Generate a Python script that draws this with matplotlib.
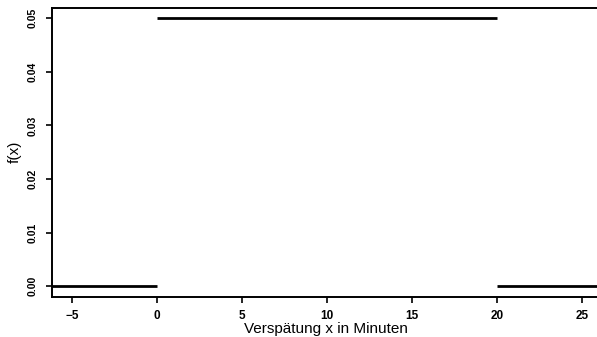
import matplotlib
matplotlib.use("Agg")
import matplotlib.pyplot as plt

# Dichtefunktion der Gleichverteilung auf [0, 20]
seg_start = [-10, 0, 20]
seg_end = [0, 20, 30]
seg_height = [0.0, 0.05, 0.0]

xticks = [-5, 0, 5, 10, 15, 20, 25]
yticks = [0.00, 0.01, 0.02, 0.03, 0.04, 0.05]

plt.rcParams['font.family'] = ['Liberation Sans', 'DejaVu Sans']

fig = plt.figure(figsize=(5.97, 3.37), dpi=100)
ax = fig.add_axes([52 / 597, 1 - 297 / 337, 548 / 597, (297 - 7.5) / 337])

for x0, x1, h in zip(seg_start, seg_end, seg_height):
    ax.plot([x0, x1], [h, h], color="black", lw=2.0, solid_capstyle="butt")

ax.set_xlim(-6.18, -6.18 + 548 / 17)
ax.set_ylim(-0.002, 0.0520)

ax.set_xticks(xticks)
ax.set_xticklabels([str(t).replace("-", "\u2212") for t in xticks],
                   fontsize=8.5, fontweight="bold")
ax.set_yticks(yticks)
ax.set_yticklabels([f"{t:.2f}" for t in yticks], fontsize=7.5,
                   fontweight="bold", rotation=90, va="center")

ax.tick_params(direction="out", length=4.3, width=1.2)
ax.tick_params(axis="x", pad=5)
ax.tick_params(axis="y", pad=6)
for s in ax.spines.values():
    s.set_linewidth(1.4)

ax.set_xlabel("Verspätung x in Minuten", fontsize=11, labelpad=0)
ax.set_ylabel("f(x)", fontsize=11, labelpad=4)

fig.savefig("out.png", dpi=100)
plt.close(fig)
